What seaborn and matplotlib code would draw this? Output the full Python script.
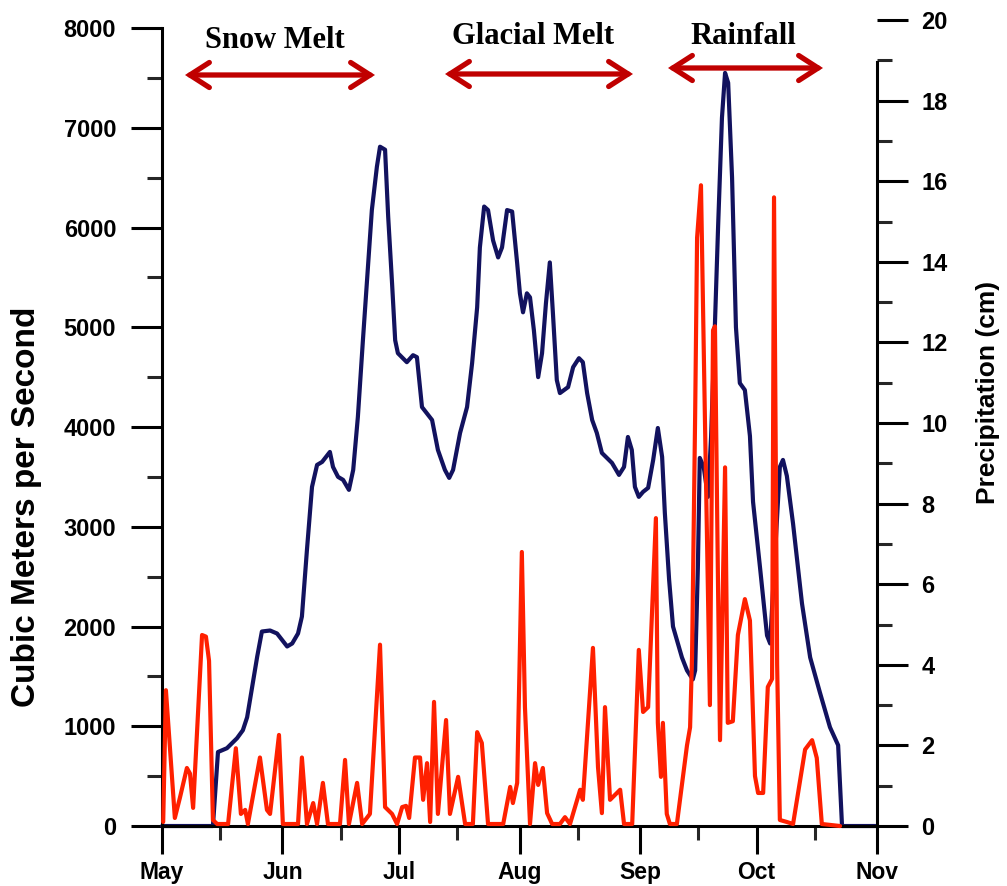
import matplotlib
matplotlib.use("Agg")
import matplotlib.pyplot as plt
import seaborn as sns
from matplotlib.ticker import FixedLocator, MultipleLocator

# River discharge (m^3/s), days counted from 1 May
flow_day = [0.0, 13.1, 14.4, 16.7, 19.3, 20.8, 21.9, 24.5, 25.7, 27.8, 29.6, 32.2, 33.5, 35.0,
            36.0, 37.3, 38.6, 39.9, 41.2, 43.2, 44.0, 45.3, 46.6, 48.1, 49.2, 50.4, 51.7, 53.0,
            54.0, 55.3, 56.1, 57.4, 58.2, 59.2, 60.0, 60.7, 63.0, 64.6, 65.6, 66.9, 69.5, 71.0,
            72.8, 73.9, 74.9, 76.7, 78.5, 79.8, 81.1, 81.8, 82.9, 83.9, 85.2, 86.5, 87.5, 88.8,
            90.1, 91.4, 92.1, 92.9, 93.9, 94.7, 95.7, 96.8, 97.8, 98.8, 99.8, 100.6, 101.6, 102.4,
            104.5, 105.8, 107.3, 108.3, 109.4, 110.7, 111.9, 113.2, 114.5, 115.8, 117.6, 118.9,
            119.9, 120.9, 121.7, 122.7, 123.8, 125.1, 126.4, 127.6, 128.7, 129.4, 130.5, 131.5,
            133.8, 135.1, 136.6, 137.2, 137.9, 138.4, 139.4, 140.5, 141.3, 142.1, 143.1, 144.1,
            144.9, 145.7, 146.7, 147.7, 148.7, 150.0, 151.3, 152.1, 153.9, 155.7, 156.5, 159.0,
            159.8, 160.8, 162.4, 164.7, 166.8, 169.3, 171.9, 174.0, 175.0, 184.0]
flow_cms = [0, 0, 742, 780, 880, 960, 1090, 1700, 1950, 1960, 1930, 1800, 1830, 1930,
            2100, 2770, 3400, 3620, 3650, 3750, 3600, 3500, 3470, 3370, 3570, 4100, 4870, 5600,
            6175, 6610, 6810, 6780, 6110, 5440, 4870, 4740, 4650, 4720, 4700, 4200, 4070, 3770,
            3570, 3490, 3570, 3940, 4200, 4640, 5200, 5800, 6210, 6175, 5870, 5700, 5800, 6175,
            6160, 5640, 5340, 5150, 5340, 5300, 4970, 4500, 4740, 5240, 5650, 5140, 4470, 4340,
            4400, 4600, 4690, 4650, 4340, 4070, 3940, 3740, 3690, 3640, 3520, 3600,
            3900, 3770, 3400, 3300, 3350, 3390, 3670, 3990, 3700, 3140, 2470, 2000,
            1690, 1560, 1470, 1560, 2590, 3690, 3600, 3300, 3900, 4800, 6000, 7100,
            7550, 7450, 6500, 5000, 4440, 4370, 3910, 3250, 2590, 1910, 1830, 3600,
            3670, 3510, 3030, 2230, 1690, 1340, 990, 810, 0, 0]

# Daily precipitation (cm)
rain_day = [0.3, 1.0, 3.3, 4.6, 6.4, 7.2, 8.0, 10.3, 11.3, 12.1, 13.1, 14.2, 17.0, 19.0, 20.3,
            21.4, 22.1, 25.2, 27.0, 27.8, 30.1, 31.1, 35.0, 36.0, 37.3, 38.9, 39.9, 41.4, 42.7,
            45.8, 47.1, 48.1, 50.2, 51.5, 53.5, 56.1, 57.4, 59.2, 60.5, 61.8, 62.8, 63.6, 65.1,
            66.4, 67.2, 68.2, 69.0, 70.0, 71.0, 73.1, 74.1, 76.2, 78.0, 80.0, 81.1, 82.3, 83.9,
            87.8, 89.6, 90.3, 91.4, 92.6, 93.4, 94.7, 96.0, 96.8, 98.0, 99.1, 100.4, 102.4, 103.7,
            105.0, 107.6, 108.3, 110.9, 112.2, 113.2, 114.0, 115.3, 117.9, 118.9, 121.0, 122.7,
            123.8, 125.1, 127.1, 127.6, 128.4, 128.9, 129.9, 130.7, 132.5, 135.1, 135.9, 136.4,
            137.2, 137.7, 138.7, 139.7, 141.0, 141.8, 142.3, 143.1, 143.6, 144.9, 145.6, 146.9,
            148.2, 150.0, 151.3, 152.6, 153.4, 154.7, 155.9, 157.0, 157.5, 158.3, 159.0, 160.8,
            162.4, 165.5, 167.3, 168.5, 169.8, 174.5]
rain_cm = [0.1, 3.37, 0.2, 0.7, 1.44, 1.3, 0.45, 4.74, 4.7, 4.1, 0.15, 0.05, 0.05, 1.93, 0.3,
           0.4, 0.05, 1.7, 0.4, 0.3, 2.26, 0.05, 0.05, 1.7, 0.05, 0.57, 0.05, 1.07, 0.05,
           0.05, 1.64, 0.05, 1.07, 0.05, 0.3, 4.5, 0.47, 0.3, 0.05, 0.47, 0.5, 0.2, 1.7,
           1.7, 0.65, 1.56, 0.1, 3.08, 0.3, 2.63, 0.3, 1.22, 0.05, 0.05, 2.33, 2.06, 0.05,
           0.05, 0.97, 0.57, 1.07, 6.8, 2.95, 0.05, 1.56, 1.02, 1.44, 0.32, 0.05, 0.05, 0.22,
           0.05, 0.9, 0.65, 4.42, 1.46, 0.32, 2.95, 0.65, 0.9, 0.05, 0.05, 4.37,
           2.83, 2.95, 7.64, 2.56, 1.22, 2.56, 0.3, 0.05, 0.05, 2.0, 2.45, 4.2,
           10.2, 14.6, 15.9, 10.2, 3.0, 12.3, 12.4, 5.86, 2.13, 8.9, 2.56, 2.6,
           4.74, 5.63, 5.1, 1.24, 0.82, 0.82, 3.45, 3.65, 15.6, 4.0, 0.15, 0.1,
           0.05, 1.9, 2.13, 1.69, 0.05, 0.0]

month_days = [0, 31, 61, 92, 123, 153, 184]
month_labels = ["May", "Jun", "Jul", "Aug", "Sep", "Oct", "Nov"]

season_labels = ["Snow Melt", "Glacial Melt", "Rainfall"]

sns.set_theme(style="ticks")
plt.rcParams["font.family"] = ["Liberation Sans", "DejaVu Sans"]
plt.rcParams["font.weight"] = "bold"

FLOW_COLOR = "#12125e"
RAIN_COLOR = "#ff2000"
ARROW_COLOR = "#c00000"

fig = plt.figure(figsize=(10.07, 8.86), dpi=100)
ax = fig.add_axes([0.1609, 0.0677, 0.7100, 0.9097])
ax2 = ax.twinx()

sns.lineplot(x=flow_day, y=flow_cms, ax=ax, color=FLOW_COLOR, linewidth=3.0,
             estimator=None, sort=False)
sns.lineplot(x=rain_day, y=rain_cm, ax=ax2, color=RAIN_COLOR, linewidth=3.0,
             estimator=None, sort=False)
for a in (ax, ax2):
    for ln in a.get_lines():
        ln.set_clip_on(False)
        ln.set_solid_joinstyle("round")

ax.set_xlim(0, 184)
ax.set_ylim(0, 8080)
ax2.set_ylim(0, 20)

# spines
for s in ("top", "right"):
    ax.spines[s].set_visible(False)
for s in ("top", "left", "bottom"):
    ax2.spines[s].set_visible(False)
for a in (ax, ax2):
    for s in a.spines.values():
        s.set_linewidth(2.2)
        s.set_color("black")
ax.spines["left"].set_bounds(0, 8000)
ax2.spines["right"].set_bounds(0, 18.96)

# ticks
ax.xaxis.set_major_locator(FixedLocator(month_days))
ax.xaxis.set_minor_locator(FixedLocator([d + 15 for d in month_days[:-1]]))
ax.set_xticklabels(month_labels)
ax.yaxis.set_major_locator(MultipleLocator(1000))
ax.yaxis.set_minor_locator(MultipleLocator(500))
ax2.yaxis.set_major_locator(MultipleLocator(2))
ax2.yaxis.set_minor_locator(MultipleLocator(1))

ax.tick_params(axis="x", which="major", length=20, width=2.2, pad=5, labelsize=16.5, colors="black")
ax.tick_params(axis="x", which="minor", length=10, width=2.2)
ax.tick_params(axis="y", which="major", length=22, width=2.2, pad=11, labelsize=17, colors="black")
ax.tick_params(axis="y", which="minor", length=11, width=2.2)
ax2.tick_params(axis="y", which="major", length=22, width=2.2, pad=10, labelsize=17, colors="black")
ax2.tick_params(axis="y", which="minor", length=11, width=2.2)
for lab in ax.get_xticklabels() + ax.get_yticklabels() + ax2.get_yticklabels():
    lab.set_fontweight("bold")

ax.set_xlabel("")
ax.set_ylabel("Cubic Meters per Second", fontsize=24, fontweight="bold", color="black")
ax.yaxis.set_label_coords(-0.168, 0.396)
ax2.set_ylabel("Precipitation (cm)", fontsize=19, fontweight="bold", color="black")
ax2.yaxis.set_label_coords(1.139, 0.538)

# season annotations along the top
label_pos = [(275, 41), (533, 37), (743, 37)]
arrow_pos = [(185, 375, 75), (445, 633, 74), (668, 823, 68)]
W, H = 1007, 886
for text, (tx, ty), (x1, x2, y) in zip(season_labels, label_pos, arrow_pos):
    fig.text(tx / W, 1 - ty / H, text, family=["Liberation Serif", "DejaVu Serif"],
             fontweight="bold", fontsize=22, ha="center", va="center", color="black")
    ax.annotate("", xy=(x2 / W, 1 - y / H), xytext=(x1 / W, 1 - y / H),
                xycoords="figure fraction", textcoords="figure fraction",
                arrowprops=dict(arrowstyle="<->,head_length=0.7,head_width=0.45",
                                lw=3.8, color=ARROW_COLOR, mutation_scale=20,
                                shrinkA=0, shrinkB=0, capstyle="round",
                                joinstyle="miter"))

fig.savefig("out.png", dpi=100, facecolor="white")
